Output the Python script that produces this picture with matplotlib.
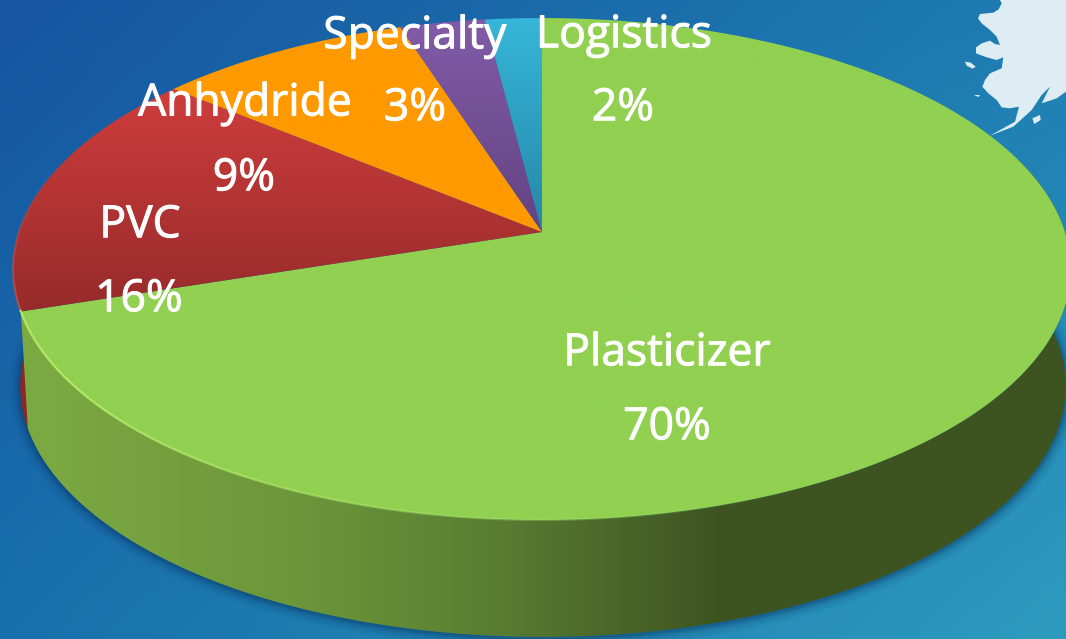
import numpy as np
import matplotlib
matplotlib.use("Agg")
import matplotlib.pyplot as plt
from matplotlib.patches import Polygon
from matplotlib.collections import LineCollection
import matplotlib.patheffects as pe

categories = ["Plasticizer", "PVC", "Anhydride", "Specialty", "Logistics"]
shares = [70, 16, 9, 3, 2]
top_colors = [((145, 208, 80), (145, 208, 80)),
              ((206, 62, 60), (150, 42, 42)),
              ((255, 153, 0), (255, 153, 0)),
              ((130, 92, 168), (100, 66, 130)),
              ((54, 182, 216), (38, 135, 168))]
label_pos = [(667, 354, 667, 428), (140, 226, 139, 300), (245, 104, 244, 179),
             (415, 37, 415, 109), (624, 36, 623, 109)]
alaska = [(300,0),(305,10),(296,28),(280,38),(240,42),(234,55),(245,70),(270,90),(290,110),(300,135),(285,132),(270,122),
          (245,130),(228,142),(228,160),(260,172),(290,180),(310,172),(305,205),(270,220),(255,240),(247,260),(265,280),(290,300),
          (305,322),(330,325),(357,320),(345,365),(270,407),(340,380),(395,330),(425,285),
          (450,260),(425,310),(470,295),(498,275),(498,0)]
islands = [[(195,185),(212,188),(227,200),(218,206),(200,197)],
           [(222,285),(240,285),(235,291)],
           [(397,355),(420,345),(422,360),(403,372)]]

W, H = 1066, 639
fig = plt.figure(figsize=(W / 100, H / 100), dpi=100)
ax = fig.add_axes([0, 0, 1, 1])
ax.axis("off")

# background
c = np.array([[(22, 85, 160), (30, 125, 178)], [(24, 112, 172), (45, 155, 190)]], float) / 255
u, v = np.meshgrid(np.linspace(0, 1, 256), np.linspace(0, 1, 256))
u, v = u[..., None], v[..., None]
bg = (1-v)*((1-u)*c[0,0] + u*c[0,1]) + v*((1-u)*c[1,0] + u*c[1,1])
ax.imshow(bg, extent=(0, W, H, 0), aspect="auto", zorder=0)

# alaska decoration
ax.fill([900 + p[0]/3 for p in alaska], [p[1]/3 for p in alaska], color="#DEEDF3", lw=0, zorder=1)
for isl in islands:
    ax.fill([900 + p[0]/3 for p in isl], [p[1]/3 for p in isl], color="#DEEDF3", lw=0, zorder=1)


def project(theta, level=0.0):
    """Perspective projection of the disc; theta clockwise from 12 o'clock."""
    k = 0.1474
    t = np.cos(theta)
    den = 1 + k * t
    cx = 542 + 1.0 * level
    cy = 232 + 117 * level
    bx = 523 - 6 * level
    ay = 245.5
    return cx + bx * np.sin(theta) / den, cy - ay * t / den


def grad_clip(poly, img, extent, z):
    patch = Polygon(poly, closed=True, fc="none", ec="none", transform=ax.transData)
    ax.add_patch(patch)
    im = ax.imshow(img, extent=extent, aspect="auto", zorder=z, interpolation="bilinear")
    im.set_clip_path(patch)


cum = np.cumsum([0] + shares) / sum(shares) * 2 * np.pi
green_end, red_end = cum[1], cum[2]

# drop shadow under the side wall
th = np.linspace(np.pi * 0.42, np.pi * 1.55, 300)
sx, sy = project(th, 1.0)
for lw, al in [(16, 0.05), (12, 0.07), (8, 0.10), (5, 0.14), (2.5, 0.2)]:
    ax.plot(sx, sy + 1, color="#08325F", lw=lw, alpha=al, zorder=2, solid_capstyle="round")

# side wall: green
arc = np.linspace(np.pi * 0.4, green_end, 300)
tx, ty = project(arc, 0.0)
bx_, by_ = project(arc, 1.0)
side = np.column_stack([np.r_[tx, bx_[::-1]], np.r_[ty, by_[::-1]]])
xs = np.array([28, 300, 500, 720, 1070], float)
cols = np.array([(124, 170, 66), (108, 150, 58), (88, 125, 50), (61, 84, 33), (61, 84, 33)], float) / 255
xg = np.linspace(0, W, 512)
img = np.stack([np.interp(xg, xs, cols[:, i]) for i in range(3)], -1)[None, :, :]
grad_clip(side, img, (0, W, H, 0), 3)

# side wall: red sliver
thr = np.linspace(green_end - 0.02, 1.5 * np.pi, 40)
tx, ty = project(thr, 0.0)
bx_, by_ = project(thr, 1.0)
ax.fill(np.r_[tx, bx_[::-1]], np.r_[ty, by_[::-1]], color="#8E2526", lw=0, zorder=2.5)

# top faces, drawn from the shares
for i in [1, 2, 3, 4, 0]:
    a = np.linspace(cum[i], cum[i + 1], 300)
    x, y = project(a, 0.0)
    poly = np.column_stack([np.r_[542, x], np.r_[232, y]])
    c0, c1 = np.array(top_colors[i][0]) / 255, np.array(top_colors[i][1]) / 255
    f = np.linspace(0, 1, 256)[:, None, None]
    img = (1 - f) * c0[None, None, :] + f * c1[None, None, :]
    y0, y1 = (0, H) if i == 0 else (y.min(), 232 if i != 1 else 315)
    grad_clip(poly, img, (0, W, y1, y0), 4 + 0.01 * i)

# soft rim of the top face
a = np.linspace(0, 2 * np.pi, 600)
x, y = project(a)
pts = np.column_stack([x, y])
segs = np.stack([pts[:-1], pts[1:]], 1)
cols_rim = []
for m in a[:-1]:
    if m < green_end:
        al = np.clip((m - np.pi * 0.85) / (np.pi * 0.45), 0, 1)
        cols_rim.append((0.74, 0.95, 0.42, 0.85 * al))
    elif m < red_end:
        al = np.clip(1 - (m - green_end) / (red_end - green_end) * 1.6, 0, 1)
        cols_rim.append((0.85, 0.32, 0.30, 0.7 * al))
    else:
        cols_rim.append((1, 1, 1, 0.0))
ax.add_collection(LineCollection(segs, colors=cols_rim, linewidths=1.6, zorder=5))

# labels
stroke = [pe.withStroke(linewidth=0.7, foreground="white")]
for name, share, (x1, y1, x2, y2) in zip(categories, shares, label_pos):
    kw = dict(color="white", fontsize=32, family="Open Sans", ha="center", va="center",
              zorder=8, path_effects=stroke)
    ax.text(x1, y1, name, **kw)
    ax.text(x2, y2, f"{share}%", **kw)

ax.set_xlim(0, W)
ax.set_ylim(H, 0)
fig.savefig("out.png", dpi=100)
